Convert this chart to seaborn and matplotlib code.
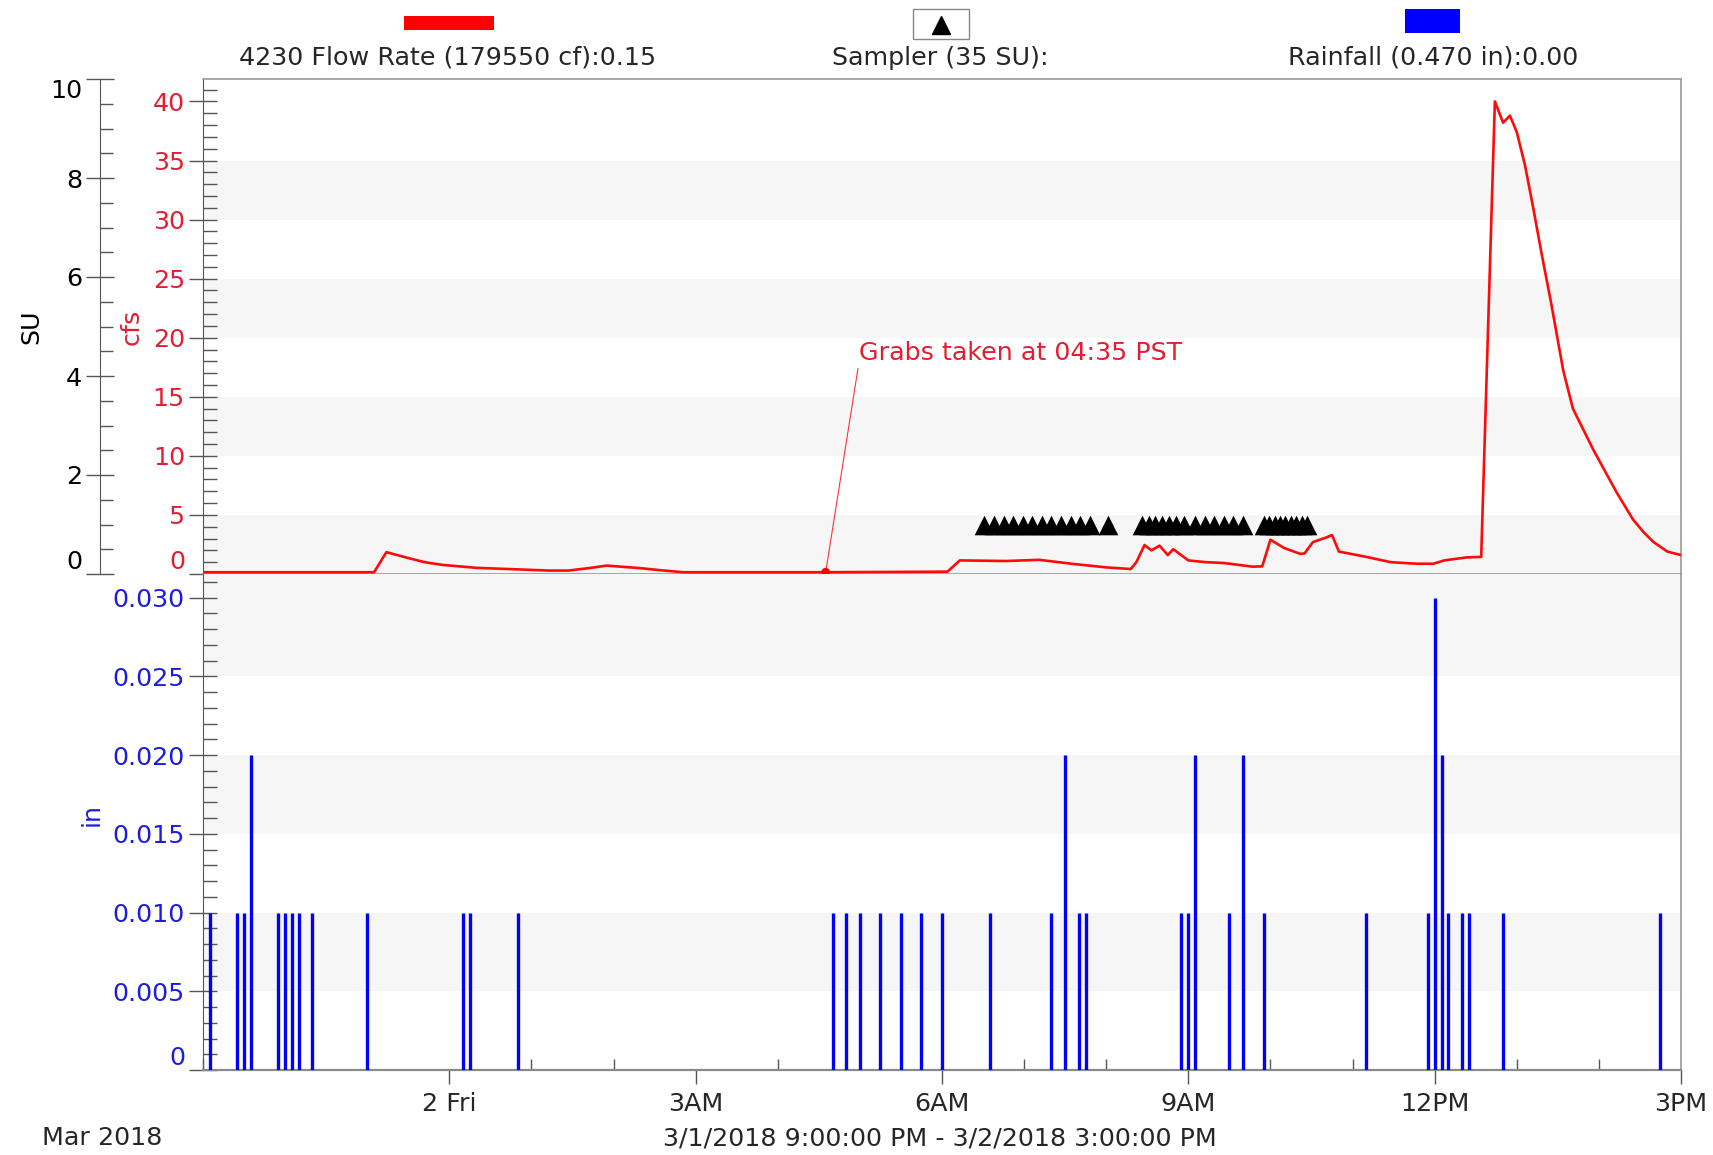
import numpy as np
import pandas as pd
import matplotlib
matplotlib.use("Agg")
import matplotlib.pyplot as plt
import matplotlib.dates as mdates
from matplotlib.patches import Rectangle
from matplotlib.lines import Line2D
from matplotlib.ticker import MultipleLocator, FuncFormatter
import seaborn as sns

# --- Data ---
# Flow rate (cfs) at site 4230
flow_times = [
    "2018-03-01 21:00", "2018-03-01 23:05", "2018-03-01 23:14", "2018-03-01 23:30",
    "2018-03-01 23:42", "2018-03-01 23:55", "2018-03-02 00:20", "2018-03-02 00:48",
    "2018-03-02 01:13", "2018-03-02 01:27", "2018-03-02 01:42", "2018-03-02 01:55",
    "2018-03-02 02:20", "2018-03-02 02:36", "2018-03-02 02:51", "2018-03-02 04:35",
    "2018-03-02 06:04", "2018-03-02 06:13", "2018-03-02 06:47", "2018-03-02 07:11",
    "2018-03-02 07:36", "2018-03-02 08:00", "2018-03-02 08:18", "2018-03-02 08:22",
    "2018-03-02 08:28", "2018-03-02 08:33", "2018-03-02 08:39", "2018-03-02 08:45",
    "2018-03-02 08:49", "2018-03-02 09:00", "2018-03-02 09:13", "2018-03-02 09:26",
    "2018-03-02 09:47", "2018-03-02 09:54", "2018-03-02 10:00", "2018-03-02 10:10",
    "2018-03-02 10:22", "2018-03-02 10:25", "2018-03-02 10:31", "2018-03-02 10:36",
    "2018-03-02 10:41", "2018-03-02 10:45", "2018-03-02 10:50", "2018-03-02 11:10",
    "2018-03-02 11:28", "2018-03-02 11:47", "2018-03-02 11:59", "2018-03-02 12:07",
    "2018-03-02 12:23", "2018-03-02 12:34", "2018-03-02 12:44", "2018-03-02 12:50",
    "2018-03-02 12:55", "2018-03-02 13:00", "2018-03-02 13:06", "2018-03-02 13:12",
    "2018-03-02 13:18", "2018-03-02 13:25", "2018-03-02 13:34", "2018-03-02 13:41",
    "2018-03-02 13:56", "2018-03-02 14:13", "2018-03-02 14:25", "2018-03-02 14:33",
    "2018-03-02 14:40", "2018-03-02 14:50", "2018-03-02 15:00",
]
flow_cfs = [
    0.15, 0.15, 1.85, 1.35,
    1.0, 0.77, 0.52, 0.40,
    0.29, 0.29, 0.50, 0.71,
    0.49, 0.30, 0.15, 0.15,
    0.20, 1.15, 1.10, 1.20,
    0.85, 0.56, 0.42, 1.0,
    2.45, 2.0, 2.4, 1.6,
    2.1, 1.15, 1.0, 0.93,
    0.62, 0.65, 2.9, 2.2,
    1.7, 1.75, 2.7, 2.9,
    3.1, 3.3, 1.9, 1.45,
    1.0, 0.87, 0.87, 1.15,
    1.4, 1.45, 40.0, 38.2,
    38.8, 37.4, 34.6, 31.0,
    27.2, 23.0, 17.2, 14.0,
    10.5, 6.9, 4.6, 3.5,
    2.7, 1.9, 1.6,
]

# Rainfall increments (in)
rain_times = [
    "2018-03-01 21:05", "2018-03-01 21:25", "2018-03-01 21:30", "2018-03-01 21:35",
    "2018-03-01 21:55", "2018-03-01 22:00", "2018-03-01 22:05", "2018-03-01 22:10",
    "2018-03-01 22:20", "2018-03-01 23:00", "2018-03-02 00:10", "2018-03-02 00:15",
    "2018-03-02 00:50", "2018-03-02 04:40", "2018-03-02 04:50", "2018-03-02 05:00",
    "2018-03-02 05:15", "2018-03-02 05:30", "2018-03-02 05:45", "2018-03-02 06:00",
    "2018-03-02 06:35", "2018-03-02 07:20", "2018-03-02 07:30", "2018-03-02 07:40",
    "2018-03-02 07:45", "2018-03-02 08:55", "2018-03-02 09:00", "2018-03-02 09:05",
    "2018-03-02 09:30", "2018-03-02 09:40", "2018-03-02 09:55", "2018-03-02 11:10",
    "2018-03-02 11:55", "2018-03-02 12:00", "2018-03-02 12:05", "2018-03-02 12:10",
    "2018-03-02 12:20", "2018-03-02 12:25", "2018-03-02 12:50", "2018-03-02 14:45",
]
rain_in = [
    0.01, 0.01, 0.01, 0.02,
    0.01, 0.01, 0.01, 0.01,
    0.01, 0.01, 0.01, 0.01,
    0.01, 0.01, 0.01, 0.01,
    0.01, 0.01, 0.01, 0.01,
    0.01, 0.01, 0.02, 0.01,
    0.01, 0.01, 0.01, 0.02,
    0.01, 0.02, 0.01, 0.01,
    0.01, 0.03, 0.02, 0.01,
    0.01, 0.01, 0.01, 0.01,
]

# Sampler events (35 samples, drawn at 1 SU)
sampler_times = [
    "2018-03-02 06:31", "2018-03-02 06:38", "2018-03-02 06:45", "2018-03-02 06:52",
    "2018-03-02 06:59", "2018-03-02 07:06", "2018-03-02 07:13", "2018-03-02 07:20",
    "2018-03-02 07:27", "2018-03-02 07:34", "2018-03-02 07:41", "2018-03-02 07:48",
    "2018-03-02 08:01",
    "2018-03-02 08:26", "2018-03-02 08:31", "2018-03-02 08:36", "2018-03-02 08:41",
    "2018-03-02 08:46", "2018-03-02 08:51", "2018-03-02 08:57", "2018-03-02 09:05",
    "2018-03-02 09:12", "2018-03-02 09:19", "2018-03-02 09:26", "2018-03-02 09:33",
    "2018-03-02 09:40",
    "2018-03-02 09:55", "2018-03-02 09:59", "2018-03-02 10:03", "2018-03-02 10:07",
    "2018-03-02 10:11", "2018-03-02 10:15", "2018-03-02 10:19", "2018-03-02 10:23",
    "2018-03-02 10:27",
]
sampler_su = [1.0] * len(sampler_times)

grab_time = "2018-03-02 04:35"
grab_cfs = 0.15

start, end = pd.Timestamp("2018-03-01 21:00"), pd.Timestamp("2018-03-02 15:00")

# --- Styling ---
sns.set_style("white")
plt.rcParams['font.family'] = ['DejaVu Sans']
RED_TXT = '#e41e32'
BLUE_TXT = '#1c1ce0'
BAND = '#f6f6f6'
FS = 18.3

W, H = 1713, 1155
fig = plt.figure(figsize=(W / 100, H / 100), dpi=100)


def fx(px):
    return px / W


def fy(py):
    return 1 - py / H


def pin_end_labels(ax, ticks, fmt, top_val, bottom_val):
    # first/last labels sit inside the axis span, as in the original software
    ax.set_yticks(ticks)
    ax.set_yticklabels([fmt(t) for t in ticks])
    for t, lab in zip(ticks, ax.get_yticklabels()):
        if np.isclose(t, bottom_val):
            lab.set_verticalalignment('bottom')
        elif np.isclose(t, top_val):
            lab.set_verticalalignment('top')


ax_top = fig.add_axes([fx(203), fy(574), (1681 - 203) / W, (574 - 79) / H])
ax_bot = fig.add_axes([fx(203), fy(1070), (1681 - 203) / W, (1070 - 574) / H], sharex=ax_top)

# alternating light bands
for lo in np.arange(0, 40, 10):
    ax_top.axhspan(lo, lo + 5, color=BAND, zorder=0, lw=0)
for lo in [0.005, 0.015, 0.025]:
    ax_bot.axhspan(lo, lo + 0.005 if lo < 0.025 else 0.04, color=BAND, zorder=0, lw=0)

flow_df = pd.DataFrame({"time": pd.to_datetime(flow_times), "cfs": flow_cfs})
rain_df = pd.DataFrame({"time": pd.to_datetime(rain_times), "inch": rain_in})
samp_df = pd.DataFrame({"time": pd.to_datetime(sampler_times), "su": sampler_su})

# --- Upper panel: flow ---
sns.lineplot(data=flow_df, x="time", y="cfs", ax=ax_top, color='#ff0a0a', lw=1.9,
             estimator=None, zorder=3)
sns.scatterplot(x=[pd.Timestamp(grab_time)], y=[grab_cfs], ax=ax_top, color='#ff0000',
                s=40, edgecolor='none', zorder=4)
ax_top.annotate("Grabs taken at 04:35 PST",
                xy=(pd.Timestamp(grab_time), grab_cfs),
                xytext=(pd.Timestamp("2018-03-02 04:59"), 18.7),
                color=RED_TXT, fontsize=FS, ha='left', va='center',
                arrowprops=dict(arrowstyle='-', color='#ff3040', lw=0.8,
                                relpos=(0, 0), shrinkA=0, shrinkB=0))

ax_top.set_xlim(start, end)
ax_top.set_ylim(0, 41.9)
pin_end_labels(ax_top, np.arange(0, 41, 5), lambda t: f"{t:.0f}", 99, 0)
ax_top.yaxis.set_minor_locator(MultipleLocator(1))
ax_top.tick_params(axis='y', which='major', direction='inout', length=20, width=1,
                   color='#555555', labelcolor=RED_TXT, labelsize=FS, pad=3, left=True)
ax_top.tick_params(axis='y', which='minor', direction='in', length=10, width=1,
                   color='#555555', left=True)
ax_top.tick_params(axis='x', which='both', bottom=False, labelbottom=False)
ax_top.set_ylabel("cfs", color=RED_TXT, fontsize=FS)
ax_top.yaxis.set_label_coords(-0.040, 0.50)
ax_top.set_xlabel("")

# SU axis with sampler markers
ax_su = ax_top.twinx()
ax_su.set_ylim(0, 10)
ax_su.yaxis.set_ticks_position('left')
ax_su.yaxis.set_label_position('left')
ax_su.spines['left'].set_position(('axes', (100 - 203) / 1478))
ax_su.spines['left'].set_visible(True)
ax_su.spines['left'].set_color('#555555')
for s in ['right', 'top', 'bottom']:
    ax_su.spines[s].set_visible(False)
pin_end_labels(ax_su, np.arange(0, 11, 2), lambda t: f"{t:.0f}", 10, 0)
ax_su.yaxis.set_minor_locator(MultipleLocator(0.5))
ax_su.tick_params(axis='y', which='major', direction='inout', length=20, width=1,
                  color='#555555', labelcolor='black', labelsize=FS, pad=3)
ax_su.tick_params(axis='y', which='minor', direction='in', length=9, width=1, color='#555555')
sns.scatterplot(data=samp_df, x="time", y="su", ax=ax_su, marker='^', s=200,
                color='black', edgecolor='black', linewidth=0, zorder=5)
ax_su.set_ylabel("SU", fontsize=FS, color='black')
ax_su.yaxis.set_label_coords(-0.108, 0.50)
ax_su.set_xlabel("")

for s in ['top', 'right', 'bottom']:
    ax_top.spines[s].set_color('#9a9a9a')
    ax_top.spines[s].set_linewidth(1.2)
ax_top.spines['left'].set_color('#555555')

# --- Lower panel: rainfall ---
ax_bot.vlines(rain_df["time"], 0, rain_df["inch"], colors='#0000ff', lw=2.4, zorder=3)
ax_bot.set_ylim(0, 0.0315)
pin_end_labels(ax_bot, np.arange(0, 0.0301, 0.005),
               lambda v: "0" if abs(v) < 1e-9 else f"{v:.3f}", 99, 0)
ax_bot.yaxis.set_minor_locator(MultipleLocator(0.001))
ax_bot.tick_params(axis='y', which='major', direction='inout', length=20, width=1,
                   color='#555555', labelcolor=BLUE_TXT, labelsize=FS, pad=3, left=True)
ax_bot.tick_params(axis='y', which='minor', direction='in', length=10, width=1,
                   color='#555555', left=True)
ax_bot.set_ylabel("in", color=BLUE_TXT, fontsize=FS)
ax_bot.yaxis.set_label_coords(-0.067, 0.515)


def time_label(x, pos):
    d = mdates.num2date(x)
    if d.hour == 0:
        return f"{d.day} {d.strftime('%a')}"
    h = d.hour % 12 or 12
    return f"{h}{'AM' if d.hour < 12 else 'PM'}"


ax_bot.xaxis.set_major_locator(mdates.HourLocator(byhour=[0, 3, 6, 9, 12, 15]))
ax_bot.xaxis.set_minor_locator(mdates.HourLocator())
ax_bot.xaxis.set_major_formatter(FuncFormatter(time_label))
ax_bot.tick_params(axis='x', which='major', direction='out', length=10, width=1,
                   color='#555555', labelsize=FS, pad=6, bottom=True, labelbottom=True)
ax_bot.tick_params(axis='x', which='minor', direction='in', length=8, width=1,
                   color='#555555', bottom=True)
ax_bot.set_xlabel("")

ax_bot.spines['top'].set_visible(False)
ax_bot.spines['right'].set_color('#9a9a9a')
ax_bot.spines['right'].set_linewidth(1.2)
ax_bot.spines['bottom'].set_color('#8a8a8a')
ax_bot.spines['bottom'].set_linewidth(1.6)
ax_bot.spines['left'].set_color('#555555')

# --- Legend header ---
fig.patches.append(Rectangle((fx(404), fy(30)), 90 / W, 14 / H, transform=fig.transFigure,
                             facecolor='#ff0000', edgecolor='none'))
fig.text(fx(448), fy(58), "4230 Flow Rate (179550 cf):0.15", fontsize=FS, ha='center', va='center')

fig.patches.append(Rectangle((fx(913), fy(39)), 56 / W, 30 / H, transform=fig.transFigure,
                             facecolor='white', edgecolor='#888888', lw=1))
fig.add_artist(Line2D([fx(941)], [fy(25)], marker='^', ms=13, color='black', lw=0,
                      transform=fig.transFigure))
fig.text(fx(940), fy(58), "Sampler (35 SU):", fontsize=FS, ha='center', va='center')

fig.patches.append(Rectangle((fx(1405), fy(33)), 55 / W, 24 / H, transform=fig.transFigure,
                             facecolor='#0000ff', edgecolor='none'))
fig.text(fx(1433), fy(58), "Rainfall (0.470 in):0.00", fontsize=FS, ha='center', va='center')

# --- Footer ---
fig.text(fx(42), fy(1138), "Mar 2018", fontsize=FS, ha='left', va='center')
fig.text(fx(940), fy(1138), "3/1/2018 9:00:00 PM - 3/2/2018 3:00:00 PM", fontsize=FS,
         ha='center', va='center')

fig.savefig("out.png", dpi=100, facecolor='white')
plt.close(fig)
